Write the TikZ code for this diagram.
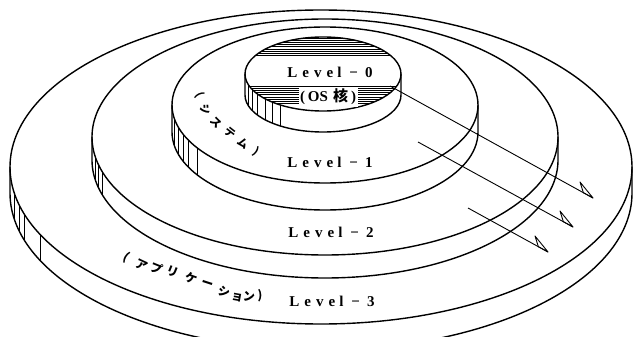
\documentclass[tikz,border=0pt]{standalone}
\usepackage{fontspec}
\setmainfont{Liberation Serif}
\newfontfamily\jpfont{Noto Sans CJK JP}
\usetikzlibrary{calc}
\newcommand\lvltext[1]{L\kern5pt e\kern5pt v\kern5pt e\kern4pt l\kern8pt −\kern7pt #1}
% cx, cy, rx, ry, side height
\newcommand\drawdisc[5]{%
  \draw[edge] (#1,#2) ellipse [x radius=#3, y radius=#4];
  \draw[edge] ({#1-#3},#2) -- ({#1-#3},{#2+#5})
     arc[start angle=180, end angle=0, x radius=#3, y radius=#4] -- ({#1+#3},#2);
}
\newcommand\sidelines[6]{% cx, cy, rx, ry, h, list of x
  \foreach \xx in {#6} {
    \pgfmathsetmacro\yy{#2+#4*sqrt(1-((\xx-#1)/#3)^2)}
    \draw[shadeline] (\xx,\yy) -- ++(0,#5);
  }
}
\begin{document}
\begin{tikzpicture}[x=1pt,y=-1pt,
  edge/.style={line width=1.4pt, line cap=round, line join=round},
  shadeline/.style={line width=0.6pt},
  hatchline/.style={line width=0.8pt},
  arrowline/.style={line width=0.9pt, line join=round},
  lvl/.style={font=\fontsize{15}{15}\selectfont\bfseries, inner sep=0pt},
  jpsmall/.style={font=\jpfont\bfseries\fontsize{11}{11}\selectfont, inner sep=0pt},
  jpmid/.style={font=\jpfont\bfseries\fontsize{12}{12}\selectfont, inner sep=0pt}]
\useasboundingbox (0,0) rectangle (634,337);
\clip (0,0) rectangle (634,337);

% discs, largest first
\drawdisc{321}{167}{311}{157}{26}
\drawdisc{325}{137}{233}{118}{23}
\drawdisc{325}{105}{153}{78}{27}
\drawdisc{323}{74}{78}{37}{21}

% shading strokes on the left of each side
\sidelines{321}{167}{311}{157}{26}{14,19,24,40}
\sidelines{325}{137}{233}{118}{23}{95,98,102}
\sidelines{325}{105}{153}{78}{27}{174,178,183,188,197}
\sidelines{323}{74}{78}{37}{21}{248,252,257,265,272,280}

% hatching on the top of Level-0
\begin{scope}
  \clip (323,74) ellipse [x radius=78, y radius=37];
  \foreach \y in {38,40.2,...,56} \draw[hatchline] (240,\y) -- (410,\y);
  \foreach \y in {86,88.2,...,104} \draw[hatchline] (240,\y) -- (410,\y);
\end{scope}

% level labels
\node[lvl] (l0) at (330,72) {\lvltext{0}};
\node[lvl, fill=white, inner sep=1.5pt] (os) at (328,97) {(\kern3pt OS\kern5pt{\jpfont 核}\kern3pt)};
\node[lvl] (l1) at (330,162) {\lvltext{1}};
\node[lvl] (l2) at (331,232) {\lvltext{2}};
\node[lvl] (l3) at (332,301) {\lvltext{3}};

% (システム) along the Level-1 rim
\foreach \c/\x/\y/\r [count=\k] in {{(}/200/95/-65, シ/206/110/-55, ス/216/123/-45, テ/230/133/-38, ム/243/143/-35, {)}/256/152/-33}
  \node[jpsmall, rotate=\r] (sys\k) at (\x,\y) {\c};

% (アプリケーション) along the Level-3 rim
\foreach \c/\x/\y/\r [count=\k] in {{(}/126/257/-30, ア/142/265/-25, プ/157/268/-22, リ/173/272/-22, ケ/191/278/-20, ー/207/285/-18, シ/224/292/-15, ョ/237/298/-10, ン/249/297/-5, {)}/260/296/0}
  \node[jpmid, rotate=\r] (app\k) at (\x,\y) {\c};

% arrows
\coordinate (s1) at (390,86);  \coordinate (t1) at (593,198);
\coordinate (s2) at (418,142); \coordinate (t2) at (573,227);
\coordinate (s3) at (468,208); \coordinate (t3) at (548,252);
\foreach \i in {1,2,3} {
  \draw[arrowline] (s\i) -- (t\i);
  \draw[arrowline] (t\i) -- ($(t\i)!11pt!(s\i)$) -- ($(t\i)+(-13,-16)$) -- cycle;
}
\end{tikzpicture}
\end{document}
